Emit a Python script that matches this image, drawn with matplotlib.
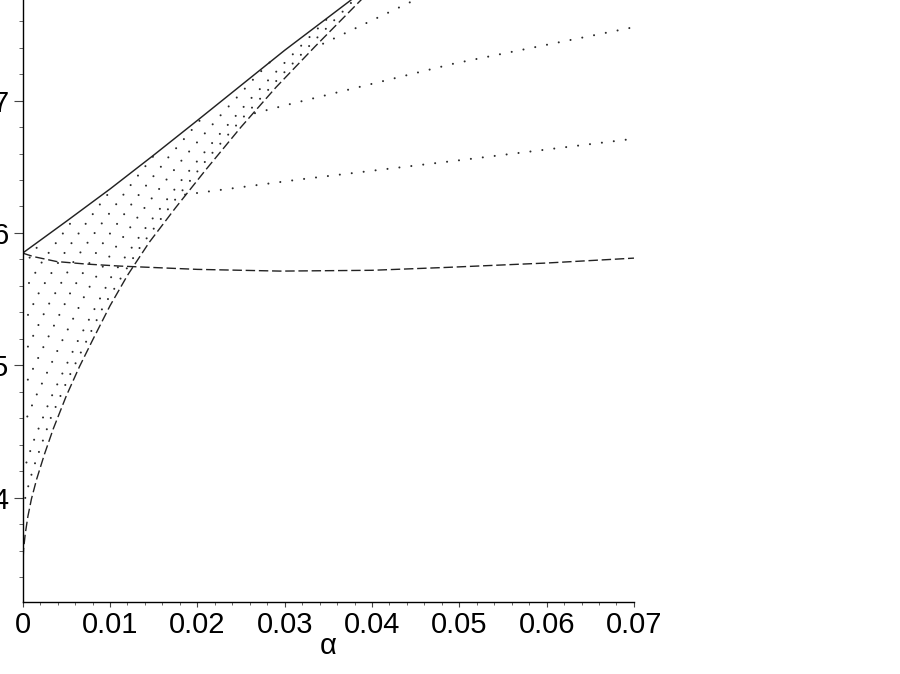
import numpy as np
import matplotlib
matplotlib.use("Agg")
import matplotlib.pyplot as plt
from matplotlib.ticker import MultipleLocator

# solid upper curve
alpha_s = [0, 0.005, 0.01, 0.015, 0.02, 0.025, 0.03, 0.035, 0.0385]
y_s = [5.848, 6.088, 6.332, 6.588, 6.85, 7.115, 7.38, 7.63, 7.805]

# steep dashed curve
alpha_d = [0, 0.0001, 0.0003, 0.0006, 0.001, 0.0016, 0.0025, 0.0035, 0.005, 0.0065,
           0.008, 0.01, 0.012, 0.0145, 0.0175, 0.021, 0.025, 0.029, 0.0335, 0.0388, 0.040]
y_d = [3.45, 3.61, 3.73, 3.86, 3.99, 4.14, 4.33, 4.52, 4.77, 4.99,
       5.19, 5.45, 5.68, 5.93, 6.19, 6.48, 6.80, 7.10, 7.41, 7.764, 7.85]

# flat dashed curve
alpha_h = [0, 0.0012, 0.0039, 0.0073, 0.0111, 0.02, 0.0295, 0.04, 0.0486, 0.06, 0.07]
y_h = [5.848, 5.822, 5.784, 5.765, 5.75, 5.725, 5.712, 5.718, 5.74, 5.773, 5.81]

# dotted family inside the wedge
fam_alpha = [
    [0, 0.0004, 0.0012, 0.0032, 0.0052, 0.0092, 0.0132, 0.0172, 0.0212, 0.0252, 0.0292, 0.0332, 0.0372, 0.0392],
    [0, 0.0012, 0.0032, 0.0062, 0.0102, 0.0142, 0.0182, 0.0222, 0.0262, 0.0302, 0.0352],
    [0, 0.0014, 0.0044, 0.0074, 0.0104, 0.0144, 0.0184, 0.0224, 0.0264, 0.0283],
    [0, 0.0026, 0.0056, 0.0086, 0.0126, 0.0166, 0.0208],
    [0, 0.0028, 0.0058, 0.0088, 0.0128, 0.0152],
    [0, 0.002, 0.005, 0.007, 0.009, 0.0105],
    [0, 0.0022, 0.0052, 0.0062],
    [0, 0.0014, 0.0024],
]
fam_y = [
    [3.91, 4.03, 4.22, 4.60, 4.90, 5.44, 5.87, 6.23, 6.565, 6.87, 7.16, 7.44, 7.71, 7.85],
    [4.18, 4.42, 4.75, 5.17, 5.675, 6.05, 6.40, 6.72, 7.02, 7.30, 7.64],
    [4.53, 4.75, 5.17, 5.567, 5.87, 6.23, 6.565, 6.87, 7.16, 7.29],
    [4.81, 5.17, 5.567, 5.87, 6.23, 6.565, 6.89],
    [5.06, 5.44, 5.78, 6.05, 6.40, 6.60],
    [5.30, 5.567, 5.87, 6.05, 6.23, 6.355],
    [5.545, 5.78, 6.05, 6.14],
    [5.74, 5.87, 5.96],
]

# dotted curves leaving the dashed curve
out_alpha = [
    [0.0186, 0.0318, 0.0506, 0.07],
    [0.0266, 0.0304, 0.0494, 0.07],
    [0.0344, 0.0449, 0.046],
]
out_y = [
    [6.29, 6.405, 6.554, 6.712],
    [6.905, 6.97, 7.28, 7.555],
    [7.43, 7.76, 7.795],
]

xticks = [0, 0.01, 0.02, 0.03, 0.04, 0.05, 0.06, 0.07]
xtick_labels = ['0', '0.01', '0.02', '0.03', '0.04', '0.05', '0.06', '0.07']
yticks = [4, 5, 6, 7]

plt.rcParams['font.family'] = ['Liberation Sans', 'DejaVu Sans']

fig = plt.figure(figsize=(9, 6.74), dpi=100)
ax = fig.add_axes([0.0252, 0.1064, 0.6792, 0.8936])

col = '#222222'
dotted = dict(color='#2a2a2a', lw=1.5, dashes=(0.01, 5.75), dash_capstyle='round')

for a, y in zip(fam_alpha, fam_y):
    ax.plot(a, y, **dotted)
for a, y in zip(out_alpha, out_y):
    ax.plot(a, y, **dotted)

ax.plot(alpha_s, y_s, color=col, lw=1.05)
ax.plot(alpha_d, y_d, color=col, lw=1.0, dashes=(6.8, 2.7))
ax.plot(alpha_h, y_h, color=col, lw=1.0, dashes=(6.8, 2.7))

ax.set_xlim(0, 0.07)
ax.set_ylim(3.21, 7.76)

ax.spines['top'].set_visible(False)
ax.spines['right'].set_visible(False)
ax.spines['left'].set_linewidth(1.0)
ax.spines['bottom'].set_linewidth(1.0)

ax.set_xticks(xticks)
ax.set_xticklabels(xtick_labels)
ax.set_yticks(yticks)
ax.xaxis.set_minor_locator(MultipleLocator(0.002))
ax.yaxis.set_minor_locator(MultipleLocator(0.2))
ax.tick_params(axis='x', which='major', length=3.6, width=0.8, pad=2.5, labelsize=21, color='#444444')
ax.tick_params(axis='x', which='minor', length=2.4, width=0.7, color='#666666')
ax.tick_params(axis='y', which='major', length=6.3, width=0.8, pad=4, labelsize=21, color='#444444')
ax.tick_params(axis='y', which='minor', length=3.1, width=0.7, color='#666666')

ax.set_xlabel('α', fontsize=21, labelpad=-5)

fig.savefig('out.png', dpi=100)
